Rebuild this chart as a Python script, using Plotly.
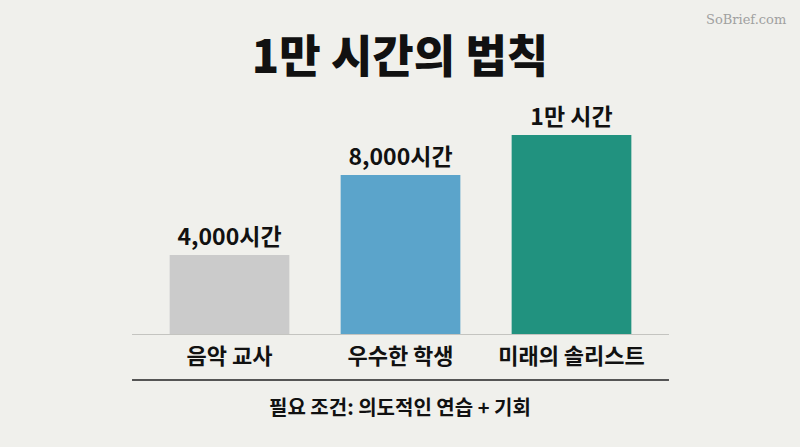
import plotly.graph_objects as go

categories = ["음악 교사", "우수한 학생", "미래의 솔리스트"]
hours = [4000, 8000, 10000]
value_labels = ["4,000시간", "8,000시간", "1만 시간"]
colors = ["#cbcbcb", "#5ba4cb", "#21927f"]
title = "1만 시간의 법칙"
footer = "필요 조건: 의도적인 연습 + 기회"
watermark = "SoBrief.com"

FONT = "Noto Sans CJK KR"
BG = "#f0f0ec"

fig = go.Figure(go.Bar(
    x=categories, y=hours, text=value_labels, textposition="outside",
    marker=dict(color=colors, line=dict(width=0)),
    width=0.7, cliponaxis=False,
    textfont=dict(family=FONT, size=23, color="#111111", weight="bold"),
))

span = 800 / 171
c0 = 229.5 / 171

fig.update_layout(
    width=800, height=447,
    margin=dict(l=0, r=0, t=80, b=112),
    paper_bgcolor=BG, plot_bgcolor=BG,
    showlegend=False,
    title=dict(text=title, x=0.5, xanchor="center", y=1 - 57 / 447, yanchor="middle",
               font=dict(family=FONT, size=45, color="#111111", weight=900)),
    xaxis=dict(range=[-c0, span - c0], showgrid=False, zeroline=False,
               showline=False, ticks="", ticklabelstandoff=6,
               tickfont=dict(family=FONT, size=22, color="#111111", weight="bold")),
    yaxis=dict(range=[0, 12750], visible=False),
)

fig.add_shape(type="line", xref="x", yref="y", x0=-0.57, x1=2.57, y0=0, y1=0,
              line=dict(color="#c4c4c0", width=2))
fig.add_shape(type="line", xref="x", yref="paper", x0=-0.57, x1=2.57,
              y0=-45/255, y1=-45/255, line=dict(color="#555555", width=2))
fig.add_annotation(text=footer, xref="paper", yref="paper", x=0.5, y=-72/255,
                   showarrow=False, yanchor="middle",
                   font=dict(family=FONT, size=20, color="#111111", weight="bold"))
fig.add_annotation(text=watermark, xref="paper", yref="paper", x=788/800, y=1 + 60/255,
                   showarrow=False, xanchor="right", yanchor="middle",
                   font=dict(family="DejaVu Serif", size=13, color="#a0a0a0"))

fig.write_html("out.html")
